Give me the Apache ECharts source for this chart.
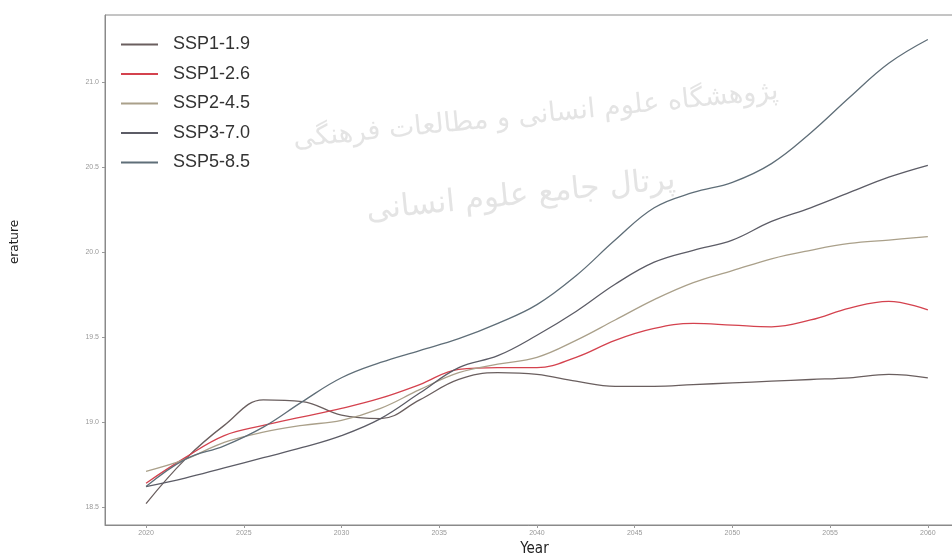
<!DOCTYPE html>
<html>
<head>
    <meta charset="utf-8">
    <title>SSP temperature</title>
    <script type="text/javascript" src="https://cdn.jsdelivr.net/npm/echarts@6/dist/echarts.min.js"></script>
    <style>
        html, body { margin: 0; padding: 0; background: #fff; }
    </style>
</head>
<body>
	<div id="main" style="height:553px; width:952px;"></div>
	<script type="text/javascript">
	// values, every 2 years
	var years = [2020, 2022, 2024, 2026, 2028, 2030, 2032, 2034, 2036, 2038, 2040,
	             2042, 2044, 2046, 2048, 2050, 2052, 2054, 2056, 2058, 2060];
	var ssp119 = [18.52, 18.78, 18.98, 19.13, 19.12, 19.04, 19.02, 19.13, 19.25, 19.29, 19.28,
	              19.24, 19.21, 19.21, 19.22, 19.23, 19.24, 19.25, 19.26, 19.28, 19.26];
	var ssp126 = [18.64, 18.79, 18.92, 18.98, 19.03, 19.08, 19.14, 19.22, 19.31, 19.32, 19.32,
	              19.38, 19.48, 19.55, 19.58, 19.57, 19.56, 19.60, 19.67, 19.71, 19.66];
	var ssp245 = [18.71, 18.78, 18.88, 18.94, 18.98, 19.01, 19.08, 19.19, 19.29, 19.34, 19.38,
	              19.48, 19.60, 19.72, 19.82, 19.89, 19.96, 20.01, 20.05, 20.07, 20.09];
	var ssp370 = [18.62, 18.67, 18.73, 18.79, 18.85, 18.92, 19.02, 19.17, 19.32, 19.39, 19.51,
	              19.65, 19.81, 19.94, 20.01, 20.07, 20.18, 20.26, 20.35, 20.44, 20.51];
	var ssp585 = [18.62, 18.78, 18.86, 18.97, 19.12, 19.26, 19.35, 19.42, 19.49, 19.58, 19.69,
	              19.86, 20.07, 20.26, 20.35, 20.41, 20.52, 20.70, 20.91, 21.11, 21.25];
	var names = ['SSP1-1.9', 'SSP1-2.6', 'SSP2-4.5', 'SSP3-7.0', 'SSP5-8.5'];
	var colors = ['#6a5f5f', '#d4424e', '#aaa08a', '#5c5c66', '#5f6e78'];
	var xTicks = [2020, 2025, 2030, 2035, 2040, 2045, 2050, 2055, 2060];
	var yTicks = [18.5, 19.0, 19.5, 20.0, 20.5, 21.0];

	var myChart = echarts.init(document.getElementById('main'));
	var all = [ssp119, ssp126, ssp245, ssp370, ssp585];
	var series = [];
	names.forEach(function(n, k){
		series.push({
			name: n,
			type: 'line',
			smooth: 0.4,
			symbol: 'none',
			data: years.map(function(y, i){ return [y, all[k][i]]; }),
			lineStyle: {color: colors[k], width: 1.3},
			itemStyle: {color: colors[k]}
		});
	});

	var option = {
		animation: false,
		backgroundColor: '#fff',
		grid: {left: 105, top: 15, right: -12, bottom: 28, outerBoundsMode: 'none',
			show: true, borderColor: '#8a8a8a', borderWidth: 1},
		legend: {
			orient: 'vertical',
			left: 121,
			top: 35,
			padding: 0,
			icon: 'rect',
			itemWidth: 37,
			itemHeight: 2,
			itemGap: 10.5,
			textStyle: {fontFamily: 'Liberation Sans', fontSize: 18, color: '#333', lineHeight: 19,
				padding: [0, 0, 0, 10]},
			data: names
		},
		xAxis: {
			type: 'value',
			min: 2017.9,
			max: 2061.85,
			name: 'Year',
			nameLocation: 'middle',
			nameGap: 12,
			nameTextStyle: {fontFamily: 'DejaVu Sans Condensed', fontSize: 15, color: '#222'},
			splitLine: {show: false},
			axisLine: {lineStyle: {color: '#8a8a8a'}},
			axisTick: {length: 3, lineStyle: {color: '#999'}, customValues: xTicks},
			axisLabel: {fontSize: 7, color: '#999', margin: 5, customValues: xTicks,
				formatter: function(v){ return String(v); }}
		},
		yAxis: {
			type: 'value',
			min: 18.394,
			max: 21.394,
			name: 'erature',
			nameLocation: 'middle',
			nameGap: 84,
			nameRotate: 90,
			nameTextStyle: {fontFamily: 'DejaVu Sans', fontSize: 12, color: '#222', padding: [0, 0, 0, 56]},
			splitLine: {show: false},
			axisLine: {show: true, lineStyle: {color: '#8a8a8a'}},
			axisTick: {show: true, length: 3, lineStyle: {color: '#999'}, customValues: yTicks},
			axisLabel: {fontSize: 7, color: '#999', margin: 6, customValues: yTicks,
				formatter: function(v){ return v.toFixed(1); }}
		},
		graphic: [
			{type: 'text', left: 292, top: 78, rotation: 0.1, z: -1,
			 style: {text: 'پژوهشگاه علوم انسانی و مطالعات فرهنگی', fontFamily: 'DejaVu Sans', fontSize: 27, fill: '#e4e4e4'}},
			{type: 'text', left: 365, top: 165, rotation: 0.1, z: -1,
			 style: {text: 'پرتال جامع علوم انسانی', fontFamily: 'DejaVu Sans', fontSize: 31, fill: '#e4e4e4'}}
		],
		series: series
	};
	myChart.setOption(option);
	</script>
</body>
</html>
